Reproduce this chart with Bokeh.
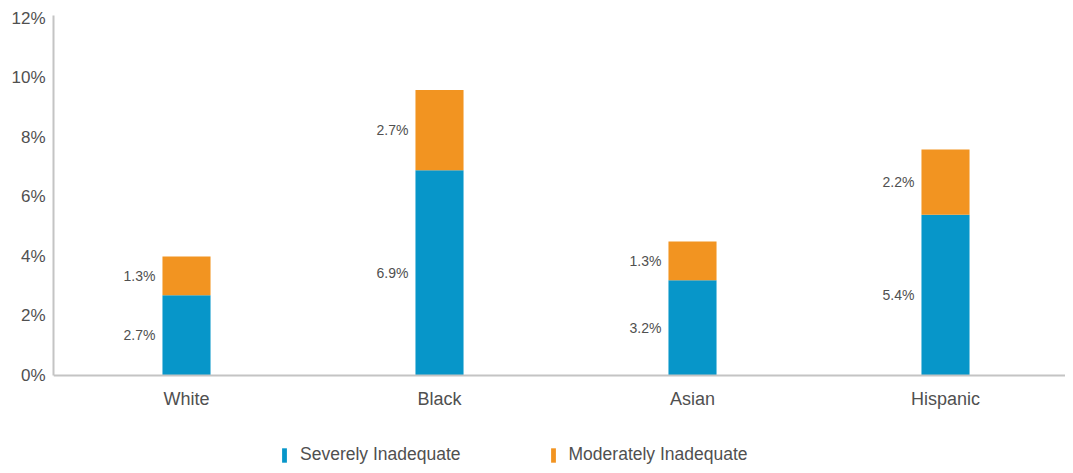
from bokeh.plotting import figure
from bokeh.models import (ColumnDataSource, Range1d, FixedTicker,
                          PrintfTickFormatter, Legend, LegendItem)
from bokeh.core.properties import value
from bokeh.embed import file_html
from bokeh.resources import INLINE

categories = ["White", "Black", "Asian", "Hispanic"]
severely = [2.7, 6.9, 3.2, 5.4]
moderately = [1.3, 2.7, 1.3, 2.2]
series_names = ["Severely Inadequate", "Moderately Inadequate"]
y_ticks = [0, 2, 4, 6, 8, 10, 12]

BLUE = "#0796C9"
ORANGE = "#F29421"
TEXT = "#505050"
FONT = "Liberation Sans"
BAR_W = 0.19

xs = list(range(len(categories)))
src = ColumnDataSource(dict(
    x=xs,
    sev=severely,
    mod=moderately,
    lbl_x=[i - BAR_W / 2 for i in xs],
    sev_mid=[s / 2 for s in severely],
    mod_mid=[s + m / 2 for s, m in zip(severely, moderately)],
    sev_lbl=["%.1f%%" % s for s in severely],
    mod_lbl=["%.1f%%" % m for m in moderately],
))

p = figure(width=1065, height=465, output_backend="svg", toolbar_location=None,
           x_range=Range1d(-0.5257, 3.4743),
           y_range=Range1d(-3.025, 12.1),
           min_border_left=53, min_border_right=0, min_border_top=15, min_border_bottom=0)

r = p.vbar_stack(["sev", "mod"], x="x", width=BAR_W, source=src,
                 color=[BLUE, ORANGE], line_color=None)

common = dict(source=src, text_font=value(FONT), text_font_size="14px",
              text_color=TEXT, text_align="right", text_baseline="middle", x_offset=-7)
p.text(x="lbl_x", y="sev_mid", text="sev_lbl", **common)
p.text(x="lbl_x", y="mod_mid", text="mod_lbl", **common)

p.xgrid.visible = False
p.ygrid.visible = False
p.outline_line_color = None

for ax in (p.xaxis, p.yaxis):
    ax.axis_line_color = "#c4c4c4"
    ax.axis_line_width = 2
    ax.major_tick_line_color = None
    ax.minor_tick_line_color = None
    ax.major_tick_out = 0
    ax.major_label_text_font = FONT
    ax.major_label_text_font_size = "17px"
    ax.major_label_text_color = TEXT

p.yaxis.ticker = FixedTicker(ticks=y_ticks)
p.yaxis.formatter = PrintfTickFormatter(format="%d%%")
p.yaxis.major_label_standoff = 8
p.yaxis.bounds = (0, 12.1)
p.xaxis.ticker = FixedTicker(ticks=xs)
p.xaxis.major_label_overrides = {i: c for i, c in zip(xs, categories)}
p.xaxis.major_label_text_font_size = "18px"
p.xaxis.major_label_standoff = 13
p.xaxis.fixed_location = 0

legend = Legend(items=[LegendItem(label=series_names[i], renderers=[r[i]]) for i in range(2)],
                orientation="horizontal", location=(228, 0),
                glyph_width=6, glyph_height=18, label_standoff=13, spacing=89,
                padding=0, margin=0, border_line_color=None, background_fill_alpha=0,
                label_text_font=FONT, label_text_font_size="17.5px", label_text_color=TEXT)
p.add_layout(legend)

open("out.html", "w").write(file_html(p, INLINE))
